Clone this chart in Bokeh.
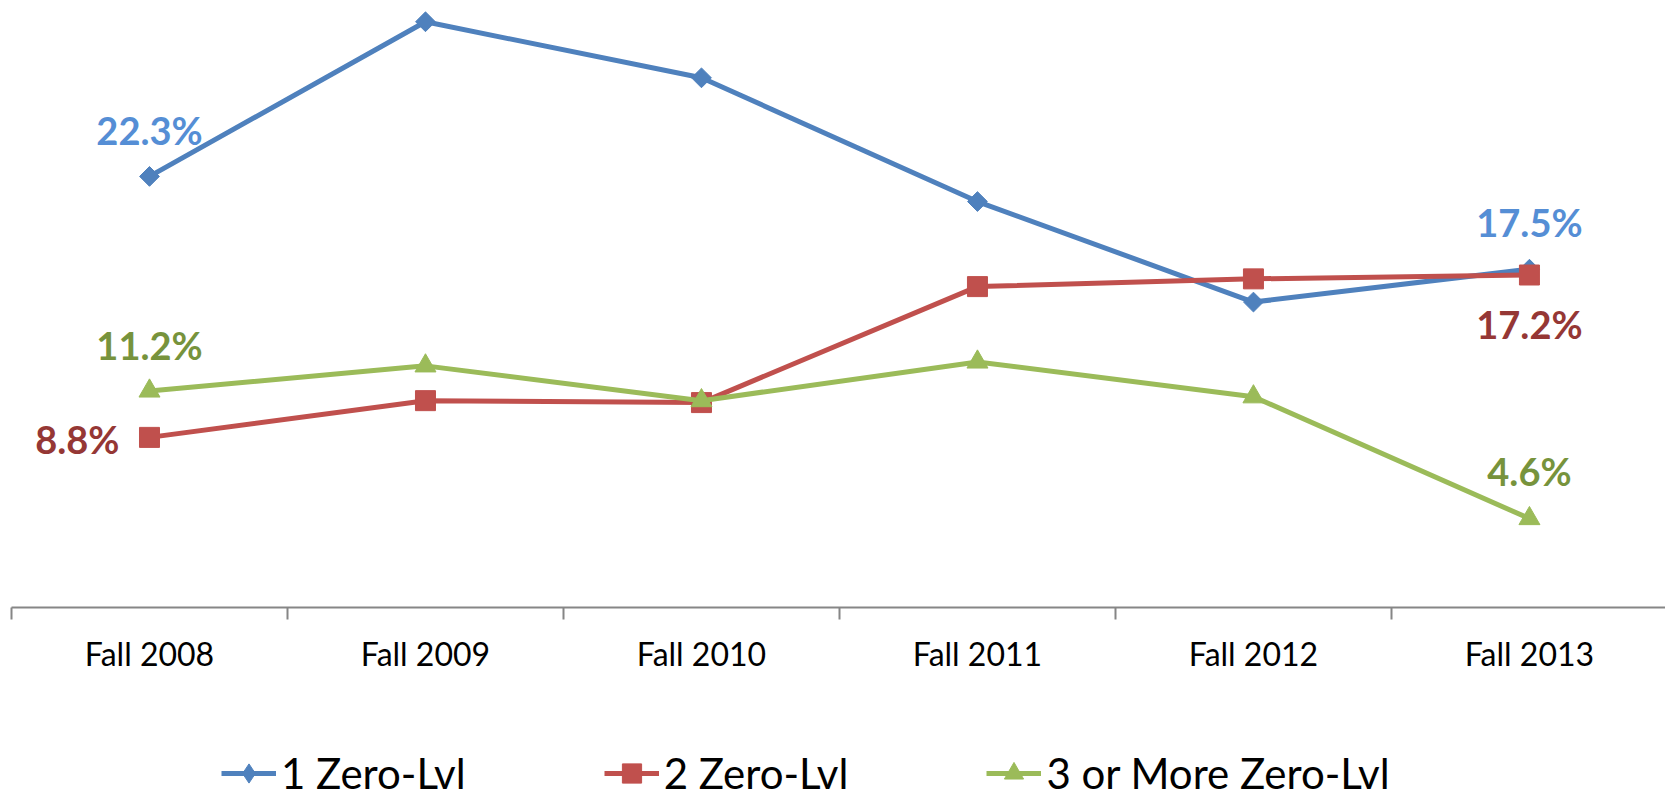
import numpy as np
from bokeh.plotting import figure
from bokeh.layouts import column
from bokeh.models import Range1d, FixedTicker, Legend, LegendItem, ColumnDataSource
from bokeh.core.properties import value
from bokeh.embed import file_html
from bokeh.resources import INLINE

# ---------------- data ----------------
categories = ["Fall 2008", "Fall 2009", "Fall 2010", "Fall 2011", "Fall 2012", "Fall 2013"]
one_zero_lvl = [22.3, 30.3, 27.4, 21.0, 15.8, 17.5]
two_zero_lvl = [8.8, 10.7, 10.6, 16.6, 17.0, 17.2]
three_plus_zero_lvl = [11.2, 12.5, 10.7, 12.7, 10.9, 4.6]
series_names = ["1 Zero-Lvl", "2 Zero-Lvl", "3 or More Zero-Lvl"]

# ---------------- styles ----------------
line_colors = ["#4F81BD", "#C0504D", "#9BBB59"]
label_colors = ["#558ED5", "#953735", "#77933C"]
FONT = "Lato"
W = 1665

x = list(range(len(categories)))

p = figure(width=W, height=718, output_backend="svg", toolbar_location=None,
           x_range=Range1d(-0.5, 5.493), y_range=Range1d(0, 31.40),
           min_border_left=11, min_border_right=0, min_border_top=0,
           min_border_bottom=111)
p.yaxis.visible = False
p.grid.visible = False
p.outline_line_color = None

ax = p.xaxis[0]
ax.ticker = FixedTicker(ticks=x, minor_ticks=[i - 0.5 for i in range(len(categories) + 1)])
ax.major_label_overrides = {i: c for i, c in enumerate(categories)}
ax.axis_line_color = "#868686"
ax.axis_line_width = 2
ax.major_tick_line_color = None
ax.major_tick_in = 0
ax.major_tick_out = 0
ax.minor_tick_line_color = "#868686"
ax.minor_tick_line_width = 2
ax.minor_tick_in = 0
ax.minor_tick_out = 12
ax.major_label_standoff = 14
ax.major_label_text_font = FONT
ax.major_label_text_font_size = "32px"
ax.major_label_text_color = "black"

series = [one_zero_lvl, two_zero_lvl, three_plus_zero_lvl]
markers = ["square", "square", "triangle"]
angles = [np.pi / 4, 0, 0]
sizes = [14, 20, 21]

for i, ys in enumerate(series):
    src = ColumnDataSource(dict(x=x, y=ys))
    p.line("x", "y", source=src, line_color=line_colors[i], line_width=5)
    p.scatter("x", "y", source=src, marker=markers[i], size=sizes[i], angle=angles[i],
              fill_color=line_colors[i], line_color=line_colors[i])

# data labels at first and last point of each series
label_specs = [
    # (series idx, point idx, x_offset, y_offset, align)
    (0, 0, 0, -46, "center"),
    (0, 5, 0, -47, "center"),
    (1, 0, -30, 2, "right"),
    (1, 5, 0, 49, "center"),
    (2, 0, 0, -46, "center"),
    (2, 5, 0, -48, "center"),
]
for si, pi, xo, yo, al in label_specs:
    v = series[si][pi]
    p.text(x=[x[pi]], y=[v], text=[f"{v:.1f}%"], x_offset=xo, y_offset=yo,
           text_align=al, text_baseline="middle", text_font=value(FONT),
           text_font_style="bold", text_font_size="38px", text_color=label_colors[si])

# ---------------- legend strip ----------------
p2 = figure(width=W, height=76, output_backend="svg", toolbar_location=None,
            x_range=Range1d(0, 1), y_range=Range1d(0, 1),
            min_border_left=0, min_border_right=0, min_border_top=0, min_border_bottom=0)
p2.axis.visible = False
p2.grid.visible = False
p2.outline_line_color = None

legend_markers = ["diamond", "square", "triangle"]
items = []
for i in range(len(series)):
    # legend-only renderers: points placed outside the visible range
    off = ColumnDataSource(dict(x=[-10, -9], y=[-10, -10]))
    lr = p2.line("x", "y", source=off, line_color=line_colors[i], line_width=5)
    sr = p2.scatter("x", "y", source=off, marker=legend_markers[i], size=sizes[i],
                    fill_color=line_colors[i], line_color=line_colors[i])
    items.append(LegendItem(label=series_names[i], renderers=[lr, sr]))

legend = Legend(items=items, orientation="horizontal", location=(210, -4),
                label_text_font=FONT, label_text_font_size="42px", label_text_color="black",
                glyph_width=55, glyph_height=48, label_standoff=5, spacing=138,
                padding=0, margin=0, border_line_color=None, background_fill_alpha=0)
p2.add_layout(legend)

layout = column(p, p2, spacing=0)
open("out.html", "w").write(file_html(layout, INLINE))
